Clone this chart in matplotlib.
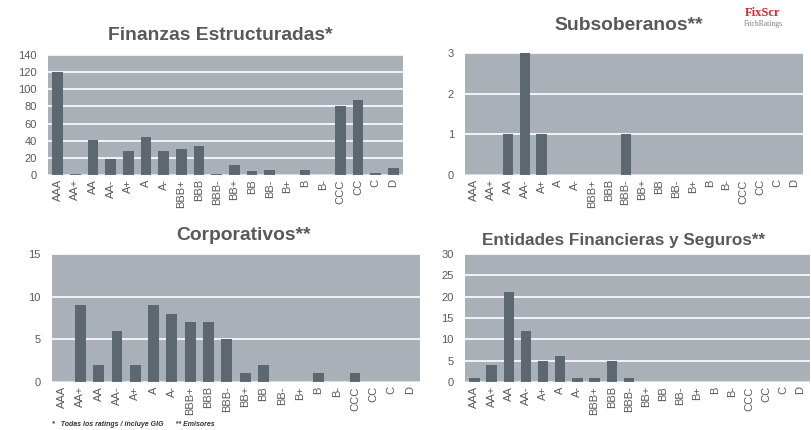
import matplotlib
matplotlib.use("Agg")
import matplotlib.pyplot as plt
import numpy as np

plt.rcParams['font.family'] = ['Liberation Sans', 'DejaVu Sans']

ratings = ["AAA", "AA+", "AA", "AA-", "A+", "A", "A-", "BBB+", "BBB", "BBB-",
           "BB+", "BB", "BB-", "B+", "B", "B-", "CCC", "CC", "C", "D"]

finanzas = [120, 1, 41, 19, 28, 44, 28, 30, 34, 1, 12, 5, 6, 0, 6, 0, 81, 87, 2, 8]
subsoberanos = [0, 0, 1, 3, 1, 0, 0, 0, 0, 1, 0, 0, 0, 0, 0, 0, 0, 0, 0, 0]
corporativos = [0, 9, 2, 6, 2, 9, 8, 7, 7, 5, 1, 2, 0, 0, 1, 0, 1, 0, 0, 0]
entidades = [1, 4, 21, 12, 5, 6, 1, 1, 5, 1, 0, 0, 0, 0, 0, 0, 0, 0, 0, 0]

titles = ["Finanzas Estructuradas*", "Subsoberanos**", "Corporativos**",
          "Entidades Financieras y Seguros**"]
yticks_list = [np.arange(0, 141, 20), np.arange(0, 4, 1), np.arange(0, 16, 5),
               np.arange(0, 31, 5)]

BG = "#aab0b7"
BAR = "#5c6770"
TXT = "#595959"

W, H = 811, 430
fig = plt.figure(figsize=(W / 100, H / 100), dpi=100)

# axes boxes in pixels: (left, top, right, bottom)
boxes = [(48, 55, 403, 175), (465, 53, 803, 175), (52, 254, 420, 382), (465, 254, 810, 382)]
title_pos = [(220, 35), (629, 25), (244, 236), (624, 240)]
title_sizes = [13.9, 13.9, 13.9, 12.3]
datas = [finanzas, subsoberanos, corporativos, entidades]

x = np.arange(len(ratings))
for box, data, title, yt, tp, ts in zip(boxes, datas, titles, yticks_list, title_pos, title_sizes):
    l, t, r, b = box
    ax = fig.add_axes([l / W, 1 - b / H, (r - l) / W, (b - t) / H])
    ax.set_facecolor(BG)
    ax.bar(x, data, width=0.6, color=BAR, zorder=3)
    ax.set_xlim(-0.55, len(ratings) - 0.45)
    ax.set_ylim(0, yt[-1])
    ax.set_yticks(yt)
    ax.yaxis.grid(True, color="white", linewidth=1.2, zorder=1)
    ax.set_axisbelow(True)
    ax.set_xticks(x)
    ax.set_xticklabels(ratings, rotation=90, fontsize=8, color=TXT)
    ax.tick_params(axis='y', labelsize=8, colors=TXT, length=0, pad=8)
    ax.tick_params(axis='x', length=0, pad=3)
    for s in ax.spines.values():
        s.set_visible(False)
    ax.axhline(0, color="#8a9096", linewidth=1, zorder=4)
    fig.text(tp[0] / W, 1 - tp[1] / H, title, ha="center", va="center",
             fontsize=ts, fontweight="bold", color=TXT)

fig.text(52 / W, 1 - 425 / H, "*   Todas los ratings / incluye GIG      ** Emisores",
         fontsize=5, style="italic", fontweight="bold", color="#333333",
         ha="left", va="center")

# logo
fig.text(745 / W, 1 - 13 / H, "FixScr", fontsize=9, color="#d7262f",
         family="Liberation Serif", fontweight="bold", ha="left", va="center")
fig.text(744 / W, 1 - 24 / H, "FitchRatings", fontsize=5.5, color="#7a7f85",
         family="Liberation Serif", ha="left", va="center")

fig.savefig("out.png", dpi=100)
